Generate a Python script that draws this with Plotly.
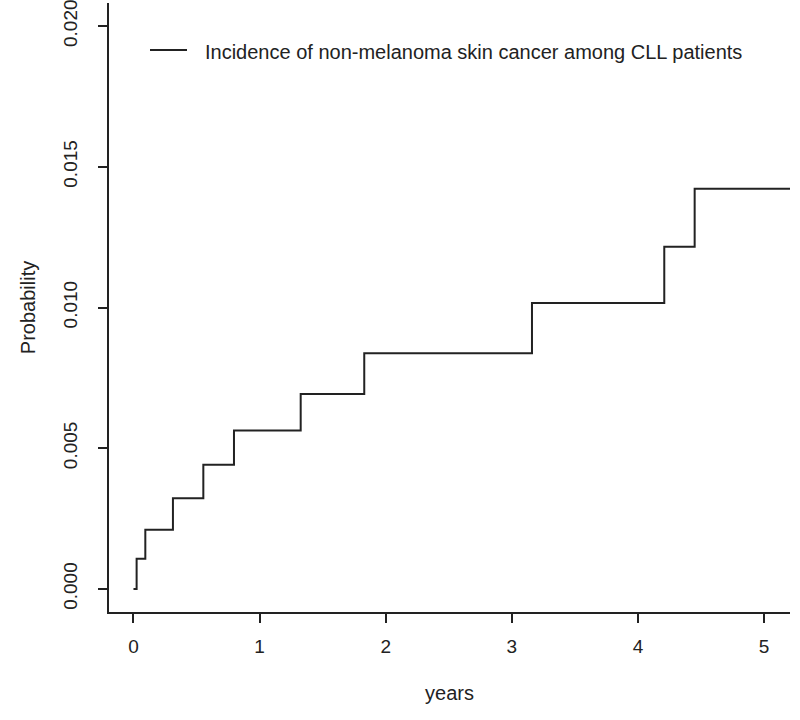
import plotly.graph_objects as go

# Event times (years) and cumulative incidence after each step
times = [0.0, 0.025, 0.094, 0.313, 0.554, 0.797, 1.326, 1.830, 3.160, 4.209, 4.450, 5.25]
incidence = [0.0, 0.00107, 0.00210, 0.00322, 0.00441, 0.00563, 0.00693, 0.00837, 0.01016, 0.01216, 0.01422, 0.01422]

x_ticks = [0, 1, 2, 3, 4, 5]
y_ticks = [0.000, 0.005, 0.010, 0.015, 0.020]
y_tick_labels = ["0.000", "0.005", "0.010", "0.015", "0.020"]
series_name = "Incidence of non-melanoma skin cancer among CLL patients"

FONT = "Liberation Sans, Arial, sans-serif"
INK = "#222222"

fig = go.Figure()
fig.add_trace(go.Scatter(
    x=times, y=incidence, mode="lines", line_shape="hv",
    line=dict(color=INK, width=2), name=series_name, showlegend=False,
))

# R-style legend: line sample + label (inside the plot area, top-left)
fig.add_shape(type="line", xref="paper", yref="paper",
              x0=(150 - 109) / 681, x1=(187 - 109) / 681,
              y0=(612 - 50) / 609, y1=(612 - 50) / 609,
              line=dict(color=INK, width=2))
fig.add_annotation(xref="paper", yref="paper", x=(203 - 109) / 681, y=(612 - 52) / 609,
                   xanchor="left", yanchor="middle", showarrow=False,
                   text=series_name, font=dict(size=20, family=FONT, color=INK))

fig.update_layout(
    width=800, height=720,
    margin=dict(l=109, r=10, t=3, b=108, autoexpand=False),
    paper_bgcolor="white", plot_bgcolor="white",
    font=dict(family=FONT, size=20, color=INK),
    showlegend=False,
    xaxis=dict(range=[-0.194, 5.206], tickvals=x_ticks, ticktext=[str(v) for v in x_ticks],
               tickfont=dict(size=19),
               showline=True, linecolor=INK, linewidth=2, ticks="outside",
               ticklen=9, tickwidth=2, tickcolor=INK, showgrid=False, zeroline=False,
               ticklabelstandoff=7, automargin=False, ticklabeloverflow="allow",
               title=dict(text="years", standoff=30, font=dict(size=20))),
    yaxis=dict(range=[-0.00082, 0.02082], tickvals=y_ticks, ticktext=y_tick_labels,
               tickangle=-90, tickfont=dict(size=19),
               showline=True, linecolor=INK, linewidth=2, ticks="outside",
               ticklen=9, tickwidth=2, tickcolor=INK, showgrid=False, zeroline=False,
               ticklabelstandoff=13, automargin=False, ticklabeloverflow="allow",
               title=dict(text="Probability", standoff=19, font=dict(size=20))),
)

fig.write_html("out.html", post_script="document.body.style.margin='0';",
               config={"displayModeBar": False})
